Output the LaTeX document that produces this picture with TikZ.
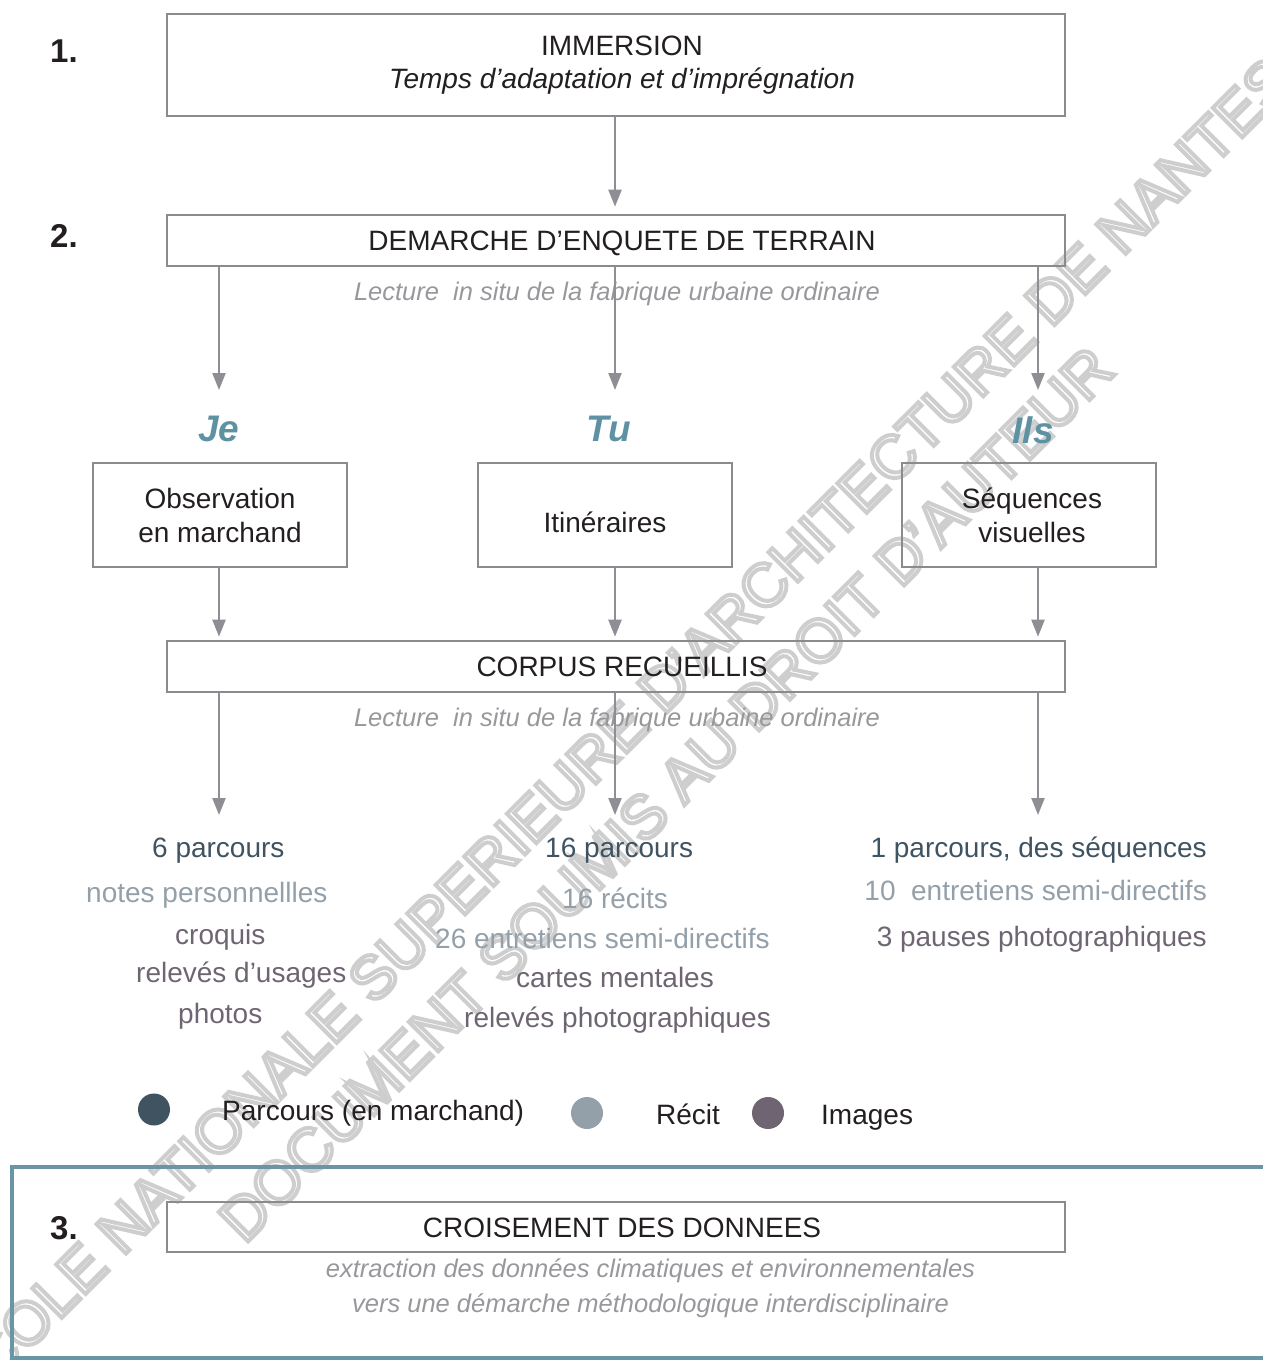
\documentclass[tikz,border=0pt]{standalone}
\usepackage{fontspec}
\setmainfont{Liberation Sans}
\usetikzlibrary{arrows.meta}
\definecolor{boxgray}{RGB}{139,139,143}
\definecolor{arrgray}{RGB}{142,143,148}
\definecolor{txtblack}{RGB}{35,31,32}
\definecolor{tealtxt}{RGB}{94,146,163}
\definecolor{darkslate}{RGB}{63,83,97}
\definecolor{lightslate}{RGB}{147,159,169}
\definecolor{mauve}{RGB}{111,101,114}
\definecolor{tealframe}{RGB}{105,150,165}
\definecolor{italgray}{RGB}{151,152,155}
\definecolor{wmgray}{RGB}{206,206,206}
\newcommand{\rsh}{\hspace*{12pt}}
\begin{document}
\begin{tikzpicture}[x=1pt,y=-1pt,
  bigbox/.style={draw=boxgray, line width=2.6pt, minimum width=898pt, inner sep=0pt,
    text=txtblack, font=\fontsize{28}{33}\selectfont, align=center},
  oneline/.style={text height=20pt, text depth=0pt},
  smallbox/.style={draw=boxgray, line width=1.8pt, minimum width=254pt, minimum height=104pt,
    inner sep=0pt, text=txtblack, font=\fontsize{28}{34}\selectfont, align=center},
  arr/.style={draw=arrgray, line width=2.3pt, -{Triangle[length=17pt,width=13pt]}},
  num/.style={font=\bfseries\fontsize{33}{36}\selectfont, text=txtblack, inner sep=0pt, anchor=base west},
  pron/.style={font=\bfseries\itshape\fontsize{37}{40}\selectfont, text=tealtxt, inner sep=0pt, anchor=base},
  lect/.style={font=\itshape\fontsize{25.5}{30}\selectfont, text=italgray, inner sep=0pt, anchor=base},
  lst/.style={font=\fontsize{28}{34}\selectfont, inner sep=0pt, anchor=base west},
  lstr/.style={font=\fontsize{28}{34}\selectfont, inner sep=0pt, anchor=base east},
  legtxt/.style={font=\fontsize{28}{34}\selectfont, text=txtblack, inner sep=0pt, anchor=base west},
  dot/.style={circle, minimum size=32pt, inner sep=0pt},
  wm/.style={text=wmgray, font=\fontsize{60.5}{70}\selectfont, rotate=45, inner sep=0pt, anchor=center}
]
\useasboundingbox (0,0) rectangle (1263,1360);

% watermark (behind everything)
\node[wm] (wm1) at (616,734) {\special{pdf:literal direct 1 Tr 4 w}ECOLE NATIONALE SUPERIEURE D’ARCHITECTURE DE NANTES\special{pdf:literal direct 0 Tr}};
\node[wm] (wm2) at (666,794) {\special{pdf:literal direct 1 Tr 4 w}DOCUMENT SOUMIS AU DROIT D’AUTEUR\special{pdf:literal direct 0 Tr}};

% teal frame of part 3
\draw[tealframe, line width=4.5pt] (1300,1167) -- (12,1167) -- (12,1358) -- (1300,1358);

% part 1
\node[num] (n1) at (50,62) {1.};
\node[bigbox, minimum height=102pt] (imm) at (616,65) {\rsh IMMERSION\\\rsh\textit{Temps d’adaptation et d’imprégnation}};

% part 2
\node[num] (n2) at (50,247) {2.};
\node[bigbox, oneline, minimum height=51pt] (dem) at (616,240.5) {\rsh DEMARCHE D’ENQUETE DE TERRAIN};
\node[lect] (lec1) at (617,300) {Lecture\ \ in situ de la fabrique urbaine ordinaire};

\coordinate (aJe) at (219,390);
\coordinate (aTu) at (615,390);
\coordinate (aIls) at (1038,390);

\node[pron] (je) at (219,441) {Je};
\node[pron] (tu) at (609,441) {Tu};
\node[pron] (ils) at (1033,443) {Ils};

\node[smallbox] (obs) at (220,515) {Observation\\en marchand};
\node[smallbox, text height=34.6pt, text depth=0pt] (iti) at (605,515) {Itinéraires};
\node[smallbox] (seq) at (1029,515) {\hspace*{6pt}Séquences\\\hspace*{6pt}visuelles};

\node[bigbox, oneline, minimum height=51pt] (corp) at (616,666.5) {\rsh CORPUS RECUEILLIS};
\node[lect] (lec2) at (617,726) {Lecture\ \ in situ de la fabrique urbaine ordinaire};

\coordinate (lJe) at (219,815);
\coordinate (lTu) at (615,815);
\coordinate (lIls) at (1038,815);

% arrows
\draw[arr, shorten >=7pt] (imm.south -| aTu) -- (dem.north -| aTu);
\draw[arr] (dem.south -| aJe) -- (aJe);
\draw[arr] (dem.south -| aTu) -- (aTu);
\draw[arr] (dem.south -| aIls) -- (aIls);
\draw[arr, shorten >=3pt] (obs.south -| aJe) -- (corp.north -| aJe);
\draw[arr, shorten >=3pt] (iti.south -| aTu) -- (corp.north -| aTu);
\draw[arr, shorten >=3pt] (seq.south -| aIls) -- (corp.north -| aIls);
\draw[arr] (corp.south -| lJe) -- (lJe);
\draw[arr] (corp.south -| lTu) -- (lTu);
\draw[arr] (corp.south -| lIls) -- (lIls);

% lists
\node[lst, text=darkslate] (j1) at (152,857) {6 parcours};
\node[lst, text=lightslate] (j2) at (86,902) {notes personnellles};
\node[lst, text=mauve] (j3) at (175,944) {croquis};
\node[lst, text=mauve] (j4) at (136,982) {relevés d’usages};
\node[lst, text=mauve] (j5) at (178,1023) {photos};

\node[lst, text=darkslate] (t1) at (545,857) {16 parcours};
\node[lst, text=lightslate] (t2) at (562,908) {16 récits};
\node[lst, text=lightslate] (t3) at (435,948) {26 entretiens semi-directifs};
\node[lst, text=mauve] (t4) at (516,987) {cartes mentales};
\node[lst, text=mauve] (t5) at (464,1027) {relevés photographiques};

\node[lstr, text=darkslate] (i1) at (1207,857) {1 parcours, des séquences};
\node[lstr, text=lightslate] (i2) at (1207,900) {10\ \ entretiens semi-directifs};
\node[lstr, text=mauve] (i3) at (1207,946) {3 pauses photographiques};

% legend
\node[dot, fill=darkslate] (d1) at (154,1109.5) {};
\node[legtxt] (lg1) at (222,1120) {Parcours (en marchand)};
\node[dot, fill=lightslate] (d2) at (587,1113) {};
\node[legtxt] (lg2) at (656,1124) {Récit};
\node[dot, fill=mauve] (d3) at (768,1113) {};
\node[legtxt] (lg3) at (821,1124) {Images};

% part 3
\node[num] (n3) at (50,1239) {3.};
\node[bigbox, oneline, minimum height=50pt] (cro) at (616,1227) {\rsh CROISEMENT DES DONNEES};
\node[lect] (ex1) at (650.5,1277) {extraction des données climatiques et environnementales};
\node[lect] (ex2) at (650.5,1312) {vers une démarche méthodologique interdisciplinaire};
\end{tikzpicture}
\end{document}
